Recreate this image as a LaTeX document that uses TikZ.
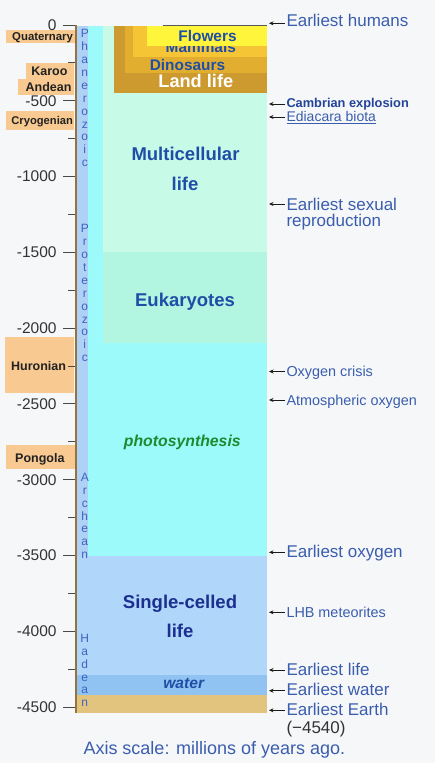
\documentclass[tikz,border=0pt]{standalone}
\usepackage{fontspec}
\setmainfont{Liberation Sans}
\usetikzlibrary{arrows.meta}
\newcommand\myfs[1]{\fontsize{#1}{#1}\selectfont}
\definecolor{bg}{HTML}{F6F7F9}
\definecolor{eon}{HTML}{AED2F6}
\definecolor{photo}{HTML}{9CFAFA}
\definecolor{multi}{HTML}{C8FAE8}
\definecolor{euk}{HTML}{B2F5E0}
\definecolor{single}{HTML}{B0D6FA}
\definecolor{waterc}{HTML}{90C2F2}
\definecolor{earthc}{HTML}{E2C47E}
\definecolor{landc}{HTML}{CC9A2E}
\definecolor{dinoc}{HTML}{E2AE30}
\definecolor{mammc}{HTML}{F5C535}
\definecolor{flowc}{HTML}{FFF53A}
\definecolor{ice}{HTML}{F8CA92}
\definecolor{linkc}{HTML}{3A5DAE}
\definecolor{cambc}{HTML}{24449A}
\definecolor{axisc}{HTML}{94733F}
\definecolor{tickc}{HTML}{4A4A4A}
\definecolor{ticktx}{HTML}{333333}
\definecolor{labtx}{HTML}{222222}
\definecolor{eontx}{HTML}{3F63C0}
\definecolor{blockblue}{HTML}{1F4EA6}
\definecolor{navy}{HTML}{1B2F8F}
\definecolor{greentx}{HTML}{1E8A30}
\definecolor{arrc}{HTML}{1A1A1A}
\begin{document}
\begin{tikzpicture}[x=1pt,y=-1pt,
  every node/.style={inner sep=0pt,outer sep=0pt},
  icelab/.style={anchor=base east,font=\bfseries\myfs{12.5},text=labtx},
  ticklab/.style={anchor=east,font=\myfs{15.5},text=ticktx},
  tickmark/.style={draw=tickc,line width=0.9pt},
  eonl/.style={anchor=base,font=\myfs{12},text=eontx},
  rbig/.style={anchor=base west,font=\myfs{17},text=linkc},
  rsmall/.style={anchor=base west,font=\myfs{14.4},text=linkc},
  arr/.style={-{Stealth[length=4.5pt,width=4pt]},line width=0.9pt,draw=arrc,shorten <=1.5pt},
  bigtx/.style={anchor=base,font=\bfseries\myfs{18.5}},
  lifetx/.style={anchor=base,font=\bfseries\myfs{15.4},text=blockblue}]
\fill[bg] (0,0) rectangle (435,763);
\useasboundingbox (0,0) rectangle (435,763);
% coloured bands
\fill[eon] (77,25.5) rectangle (88,555.5);
\fill[photo] (88,25.5) rectangle (267,555.5);
\fill[multi] (103,25.5) rectangle (267,252.3);
\fill[euk] (103,252.3) rectangle (267,343);
\fill[single] (77,555.5) rectangle (267,675);
\fill[waterc] (77,675) rectangle (267,695);
\fill[earthc] (77,695) rectangle (267,713);
% land life staircase
\fill[landc] (114,25.5) rectangle (267,93);
\fill[dinoc] (125,25.5) rectangle (267,73);
\fill[mammc] (133,25.5) rectangle (267,57);
\node[lifetx] (mamm) at (200.8,52.5) {Mammals};
\fill[flowc] (147,25.5) rectangle (267,45.5);
\node[lifetx] (flow) at (207.5,41.7) {Flowers};
\node[lifetx] (dino) at (187.5,70) {Dinosaurs};
\node[bigtx,text=white,font=\bfseries\myfs{18.2}] (land) at (195.8,87.7) {Land life};
\draw[line width=0.8pt,draw=black!65] (163,25.5) -- (267,25.5);
% block texts
\node[bigtx,text=blockblue] (mc1) at (185.5,160.5) {Multicellular};
\node[bigtx,text=blockblue] (mc2) at (185,190) {life};
\node[bigtx,text=blockblue] (eukt) at (185,306.5) {Eukaryotes};
\node[anchor=base,font=\bfseries\itshape\myfs{15.8},text=greentx] (phot) at (182.3,446) {photosynthesis};
\node[bigtx,text=navy] (sc1) at (180,608.3) {Single-celled};
\node[bigtx,text=navy] (sc2) at (180,637.3) {life};
\node[anchor=base,font=\bfseries\itshape\myfs{15.6},text=blockblue] (wat) at (183.7,688) {water};
% ice ages
\fill[ice] (6,30) rectangle (75,43);
\node[icelab,font=\bfseries\myfs{11.4}] (quat) at (73,40.8) {Quaternary};
\fill[ice] (26,63) rectangle (74,79);
\node[icelab] (karoo) at (67.5,75.5) {Karoo};
\fill[ice] (18,79) rectangle (74,94.5);
\node[icelab] (andean) at (71.5,91) {Andean};
\fill[ice] (6,111) rectangle (74,130);
\node[icelab,font=\bfseries\myfs{11.2}] (cryo) at (73,124.5) {Cryogenian};
\fill[ice] (5,337) rectangle (74,393);
\node[icelab] (huron) at (66,370.5) {Huronian};
\fill[ice] (6,445) rectangle (77,469);
\node[icelab] (pong) at (64.5,462.5) {Pongola};
% axis
\foreach \t in {0,500,...,4500}{
  \pgfmathsetmacro\yy{25+0.15156*\t}
  \draw[tickmark] (63,\yy) -- (76,\yy);
  \node[ticklab] (ax\t) at (56.5,\yy) {\ifnum\t=0 0\else -\t\fi};
}
\foreach \t in {250,750,...,4250}{
  \pgfmathsetmacro\yy{25+0.15156*\t}
  \draw[tickmark] (68,\yy) -- (76,\yy);
}
\draw[draw=axisc,line width=1.8pt] (76,25) -- (76,713);
% eons
\foreach \ch [count=\i from 0] in {P,h,a,n,e,r,o,z,o,i,c}
  \node[eonl] (ph\i) at (84.8,{37.7+12.9*\i}) {\ch};
\foreach \ch [count=\i from 0] in {P,r,o,t,e,r,o,z,o,i,c}
  \node[eonl] (pr\i) at (84.8,{232.7+12.9*\i}) {\ch};
\foreach \ch [count=\i from 0] in {A,r,c,h,e,a,n}
  \node[eonl] (ar\i) at (84.8,{481.7+12.77*\i}) {\ch};
\foreach \ch [count=\i from 0] in {H,a,d,e,a,n}
  \node[eonl] (ha\i) at (84.8,{642.7+12.8*\i}) {\ch};
% events
\coordinate (a1) at (269,23.3);
\node[rbig] (r1) at (286.5,26.5) {Earliest humans};
\draw[arr] (r1.west |- a1) -- (a1);
\coordinate (a2) at (269,104);
\node[anchor=base west,font=\bfseries\myfs{12.8},text=cambc] (r2) at (286.5,107.8) {Cambrian explosion};
\draw[arr] (r2.west |- a2) -- (a2);
\coordinate (a3) at (269,117);
\node[rsmall,font=\myfs{14}] (r3) at (286.5,121.2) {\underline{Ediacara biota}};
\draw[arr] (r3.west |- a3) -- (a3);
\coordinate (a4) at (269,204);
\node[rbig] (r4) at (286.5,210) {Earliest sexual};
\node[rbig] (r4b) at (286.5,226.5) {reproduction};
\draw[arr] (r4.west |- a4) -- (a4);
\coordinate (a5) at (269,371.5);
\node[rsmall] (r5) at (286.5,376.5) {Oxygen crisis};
\draw[arr] (r5.west |- a5) -- (a5);
\coordinate (a6) at (269,400);
\node[rsmall] (r6) at (286.5,405) {Atmospheric oxygen};
\draw[arr] (r6.west |- a6) -- (a6);
\coordinate (a7) at (269,552.3);
\node[rbig] (r7) at (286.5,557.3) {Earliest oxygen};
\draw[arr] (r7.west |- a7) -- (a7);
\coordinate (a8) at (269,612.3);
\node[rsmall] (r8) at (286.5,617.3) {LHB meteorites};
\draw[arr] (r8.west |- a8) -- (a8);
\coordinate (a9) at (269,670);
\node[rbig] (r9) at (286.5,675) {Earliest life};
\draw[arr] (r9.west |- a9) -- (a9);
\coordinate (a10) at (269,690.7);
\node[rbig] (r10) at (286.5,695) {Earliest water};
\draw[arr] (r10.west |- a10) -- (a10);
\coordinate (a11) at (269,710.3);
\node[rbig] (r11) at (286.5,715) {Earliest Earth};
\draw[arr] (r11.west |- a11) -- (a11);
\node[rbig,text=ticktx] (r11b) at (286.5,733.5) {(−4540)};
\node[anchor=base west,font=\myfs{18},text=linkc] (scale) at (83.5,754.5) {Axis scale: millions of years ago.};
\end{tikzpicture}
\end{document}
